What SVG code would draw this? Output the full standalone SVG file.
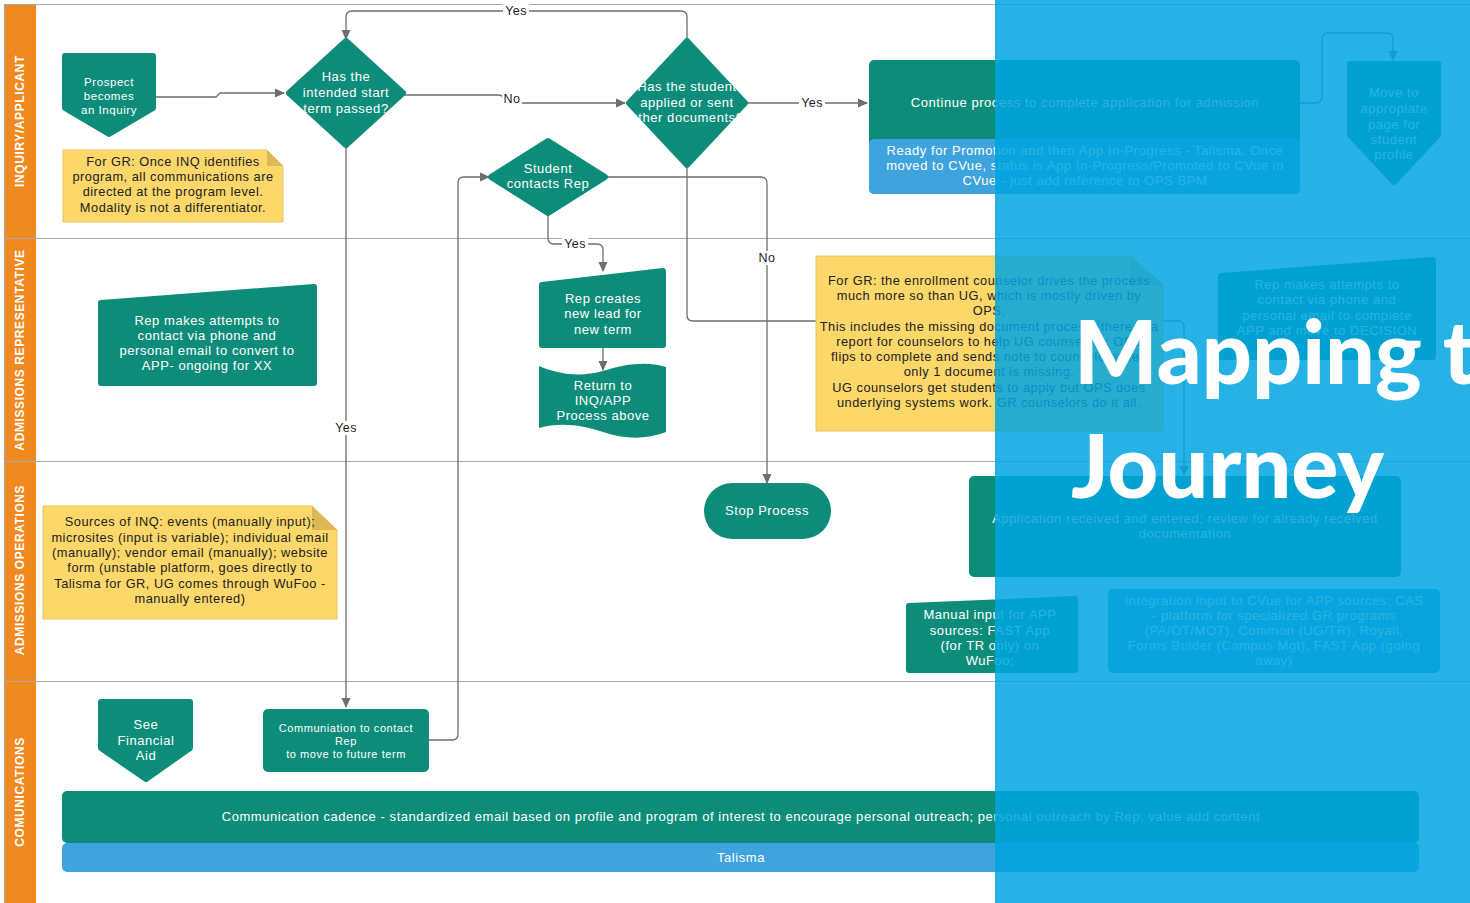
<svg xmlns="http://www.w3.org/2000/svg" width="1470" height="903" viewBox="0 0 1470 903">
<defs>
<marker id="arr" viewBox="0 0 10 10" refX="9" refY="5" markerWidth="10" markerHeight="10" markerUnits="userSpaceOnUse" orient="auto">
<path d="M0,0.5 L10,5 L0,9.5 Z" fill="#6e6e6e"/>
</marker>
<style>
.lane{fill:none;stroke:#a9a9a9;stroke-width:1.2}
.band{fill:#f0891f}
.lt{font-family:"Liberation Sans",Arial,sans-serif;font-weight:bold;font-size:12px;letter-spacing:0.6px;fill:#fff;text-anchor:middle}
.g{fill:#0d8d79}
.gr{fill:#0d8d79;stroke:#0d8d79;stroke-width:6;stroke-linejoin:round}
.b{fill:#3fa4dd}
.y{fill:#fcd76a;stroke:#e7c35c;stroke-width:1}
.fold{fill:#dcb856}
.t{font-family:"Liberation Sans",Arial,sans-serif;font-size:12.5px;letter-spacing:0.55px;fill:#fff;text-anchor:middle}
.tk{font-family:"Liberation Sans",Arial,sans-serif;font-size:12.8px;letter-spacing:0.5px;fill:#222;text-anchor:middle}
.c{fill:none;stroke:#6e6e6e;stroke-width:1.3}
.lb{font-family:"Liberation Sans",Arial,sans-serif;font-size:12.5px;letter-spacing:0.4px;fill:#222;text-anchor:middle}
.title{font-family:Lato,"Open Sans",sans-serif;font-weight:900;font-size:88px;fill:#fff}
</style>
</defs>
<rect x="0" y="0" width="1470" height="903" fill="#fff"/>

<g id="swimlanes">
<rect class="band" x="4" y="4" width="32" height="899"/>
<line class="lane" x1="4" y1="4.5" x2="1470" y2="4.5"/>
<line class="lane" x1="4" y1="238.5" x2="1470" y2="238.5"/>
<line class="lane" x1="4" y1="461.5" x2="1470" y2="461.5"/>
<line class="lane" x1="4" y1="681.5" x2="1470" y2="681.5"/>
<line class="lane" x1="4.5" y1="4" x2="4.5" y2="903"/>
<text class="lt" transform="translate(24,121) rotate(-90)">INQUIRY/APPLICANT</text>
<text class="lt" transform="translate(24,350) rotate(-90)">ADMISSIONS REPRESENTATIVE</text>
<text class="lt" transform="translate(24,570) rotate(-90)">ADMISSIONS OPERATIONS</text>
<text class="lt" transform="translate(24,792) rotate(-90)">COMUNICATIONS</text>
</g>

<g id="connectors">
<path class="c" d="M156,97 H216 L220,93 H284" marker-end="url(#arr)"/>
<path class="c" d="M403,95 H498 Q503,95 503,99 Q503,103 508,103 H625" marker-end="url(#arr)"/>
<path class="c" d="M687,41 V17 Q687,11 681,11 H352 Q346,11 346,17 V39" marker-end="url(#arr)"/>
<path class="c" d="M745,103 H867" marker-end="url(#arr)"/>
<path class="c" d="M1300,103 H1316 Q1322,103 1322,97 V39 Q1322,33 1328,33 H1387 Q1393,33 1393,39 V60" marker-end="url(#arr)"/>
<path class="c" d="M346,145 V707" marker-end="url(#arr)"/>
<path class="c" d="M429,740 H452 Q458,740 458,734 V183 Q458,177 464,177 H489" marker-end="url(#arr)"/>
<path class="c" d="M548,213 V238 Q548,244 554,244 H597 Q603,244 603,250 V271" marker-end="url(#arr)"/>
<path class="c" d="M605,177 H761 Q767,177 767,183 V483" marker-end="url(#arr)"/>
<path class="c" d="M603,348 V370" marker-end="url(#arr)"/>
<path class="c" d="M687,165 V315 Q687,321 693,321 H1178 Q1184,321 1184,327 V475" marker-end="url(#arr)"/>
<g id="labels">
<rect x="503" y="4" width="26" height="14" fill="#fff"/><text class="lb" x="516" y="15">Yes</text>
<rect x="502" y="92" width="20" height="12" fill="#fff"/><text class="lb" x="512" y="103">No</text>
<rect x="799" y="96" width="26" height="14" fill="#fff"/><text class="lb" x="812" y="107">Yes</text>
<rect x="333" y="421" width="26" height="14" fill="#fff"/><text class="lb" x="346" y="432">Yes</text>
<rect x="562" y="237" width="26" height="14" fill="#fff"/><text class="lb" x="575" y="248">Yes</text>
<rect x="757" y="251" width="20" height="14" fill="#fff"/><text class="lb" x="767" y="262">No</text>
</g>
</g>

<g id="prospect">
<path class="gr" d="M65,56 H153 V108 L109,134 L65,108 Z"/>
<text class="t" style="font-size:11.5px"><tspan x="109" y="86">Prospect</tspan><tspan x="109" y="100">becomes</tspan><tspan x="109" y="114">an Inquiry</tspan></text>
</g>

<g id="d-term">
<polygon class="gr" points="346,41 403,93 346,145 289,93"/>
<text class="t" style="font-size:13px"><tspan x="346" y="81">Has the</tspan><tspan x="346" y="97">intended start</tspan><tspan x="346" y="113">term passed?</tspan></text>
</g>

<g id="d-applied">
<polygon class="gr" points="687,41 745,103 687,165 629,103"/>
<text class="t" style="font-size:13px"><tspan x="687" y="91">Has the student</tspan><tspan x="687" y="107">applied or sent</tspan><tspan x="687" y="122">other documents?</tspan></text>
</g>

<g id="d-contacts">
<polygon class="gr" points="548,141 605,177 548,213 491,177"/>
<text class="t" style="font-size:13px"><tspan x="548" y="173">Student</tspan><tspan x="548" y="188">contacts Rep</tspan></text>
</g>

<g id="continue">
<rect class="g" x="869" y="60" width="431" height="134" rx="5"/>
<rect class="b" x="869" y="139" width="431" height="55" rx="5"/>
<text class="t" style="font-size:13px" x="1085" y="107">Continue process to complete application for admission</text>
<text class="t" style="font-size:13px"><tspan x="1085" y="155">Ready for Promotion and then App In-Progress - Talisma. Once</tspan><tspan x="1085" y="170">moved to CVue, status is App In-Progress/Promoted to CVue in</tspan><tspan x="1085" y="185">CVue - just add reference to OPS BPM</tspan></text>
</g>

<g id="move-page">
<path class="gr" d="M1350,64 H1438 V135 L1394,182 L1350,135 Z"/>
<text class="t" style="font-size:13px"><tspan x="1394" y="97">Move to</tspan><tspan x="1394" y="113">appropiate</tspan><tspan x="1394" y="129">page for</tspan><tspan x="1394" y="144">student</tspan><tspan x="1394" y="159">profile</tspan></text>
</g>

<g id="note-gr">
<path class="y" d="M63,150 H267 L283,166 V222 H63 Z"/>
<path class="fold" d="M267,150 L283,166 H267 Z"/>
<text class="tk"><tspan x="173" y="166">For GR:  Once INQ identifies</tspan><tspan x="173" y="181">program, all communications are</tspan><tspan x="173" y="196">directed at the program level.</tspan><tspan x="173" y="212">Modality is not a differentiator.</tspan></text>
</g>

<g id="rep-attempts">
<path class="gr" d="M101,303 L314,287 V383 H101 Z"/>
<text class="t" style="font-size:13px"><tspan x="207" y="325">Rep makes attempts to</tspan><tspan x="207" y="340">contact via phone and</tspan><tspan x="207" y="355">personal email to convert to</tspan><tspan x="207" y="370">APP- ongoing for XX</tspan></text>
</g>

<g id="rep-creates">
<path class="gr" d="M542,285 L663,271 V345 H542 Z"/>
<text class="t" style="font-size:13px"><tspan x="603" y="303">Rep creates</tspan><tspan x="603" y="318">new lead for</tspan><tspan x="603" y="334">new term</tspan></text>
</g>

<g id="return">
<path class="g" d="M539,366 C560,375 582,377 603,371 C625,364 646,361 666,367 V432 C645,440 624,439 603,432 C582,425 560,422 539,428 Z"/>
<text class="t" style="font-size:13px"><tspan x="603" y="390">Return to</tspan><tspan x="603" y="405">INQ/APP</tspan><tspan x="603" y="420">Process above</tspan></text>
</g>

<g id="note-counselor">
<path class="y" d="M816,256 H1130 L1163,285 V431 H816 Z"/>
<path class="fold" d="M1130,256 L1163,285 H1130 Z"/>
<text class="tk"><tspan x="989" y="285">For GR:  the enrollment counselor drives the process</tspan><tspan x="989" y="300">much more so than UG, which is mostly driven by</tspan><tspan x="989" y="315">OPS;</tspan><tspan x="989" y="331">This includes the missing document process (there is a</tspan><tspan x="989" y="346">report for counselors to help UG counselors; OPS</tspan><tspan x="989" y="361">flips to complete and sends note to counselor when</tspan><tspan x="989" y="376">only 1 document is missing.</tspan><tspan x="989" y="392">UG counselors get students to apply but OPS does</tspan><tspan x="989" y="407">underlying systems work.  GR counselors do it all.</tspan></text>
</g>

<g id="rep-complete">
<path class="gr" d="M1221,276 L1433,260 V357 H1221 Z"/>
<text class="t" style="font-size:13px"><tspan x="1327" y="289">Rep makes attempts to</tspan><tspan x="1327" y="304">contact via phone and</tspan><tspan x="1327" y="320">personal email to complete</tspan><tspan x="1327" y="335">APP and move to DECISION</tspan></text>
</g>

<g id="note-sources">
<path class="y" d="M43,506 H312 L337,530 V619 H43 Z"/>
<path class="fold" d="M312,506 L337,530 H312 Z"/>
<text class="tk"><tspan x="190" y="526">Sources of INQ:  events (manually input);</tspan><tspan x="190" y="542">microsites (input is variable); individual email</tspan><tspan x="190" y="557">(manually); vendor email (manually); website</tspan><tspan x="190" y="572">form (unstable platform, goes directly to</tspan><tspan x="190" y="588">Talisma for GR, UG comes through WuFoo -</tspan><tspan x="190" y="603">manually entered)</tspan></text>
</g>

<g id="stop">
<rect class="g" x="704" y="483" width="127" height="56" rx="28"/>
<text class="t" style="font-size:13px" x="767" y="515">Stop Process</text>
</g>

<g id="app-received">
<rect class="g" x="969" y="476" width="432" height="101" rx="5"/>
<text class="t" style="font-size:13px"><tspan x="1185" y="523">Application received and entered; review for already received</tspan><tspan x="1185" y="538">documentation</tspan></text>
</g>

<g id="manual-input">
<path class="gr" d="M909,606 L1075,599 V670 H909 Z"/>
<text class="t" style="font-size:13px"><tspan x="990" y="619">Manual input for APP</tspan><tspan x="990" y="635">sources:  FAST App</tspan><tspan x="990" y="650">(for TR only) on</tspan><tspan x="990" y="665">WuFoo;</tspan></text>
</g>

<g id="integration">
<rect class="b" x="1108" y="589" width="332" height="84" rx="5"/>
<text class="t" style="font-size:13px"><tspan x="1274" y="605">Integration input to CVue for APP sources: CAS</tspan><tspan x="1274" y="620">- platform for specialized GR programs</tspan><tspan x="1274" y="635">(PA/OT/MOT), Common (UG/TR), Royall,</tspan><tspan x="1274" y="650">Forms Bulder (Campus Mgt), FAST App (going</tspan><tspan x="1274" y="665">away)</tspan></text>
</g>

<g id="financial-aid">
<path class="gr" d="M101,702 H190 V748 L146,779 L101,748 Z"/>
<text class="t" style="font-size:13px"><tspan x="146" y="729">See</tspan><tspan x="146" y="745">Financial</tspan><tspan x="146" y="760">Aid</tspan></text>
</g>

<g id="communiation">
<rect class="g" x="263" y="709" width="166" height="63" rx="5"/>
<text class="t" style="font-size:11px"><tspan x="346" y="732">Communiation to contact</tspan><tspan x="346" y="745">Rep</tspan><tspan x="346" y="758">to move to future term</tspan></text>
</g>

<g id="cadence">
<rect class="g" x="62" y="791" width="1357" height="52" rx="5"/>
<text class="t" style="font-size:13px" x="741" y="821">Communication cadence - standardized email based on profile and program of interest to encourage personal outreach; personal outreach by Rep; value add content</text>
</g>

<g id="talisma">
<rect class="b" x="62" y="843" width="1357" height="29" rx="5"/>
<text class="t" style="font-size:13px" x="741" y="862">Talisma</text>
</g>

<g id="overlay">
<rect x="995" y="0" width="475" height="903" fill="#00a4e1" fill-opacity="0.85"/>
<text class="title" x="1074" y="384">Mapping t</text>
<text class="title" x="1071" y="498">Journey</text>
</g>
</svg>
